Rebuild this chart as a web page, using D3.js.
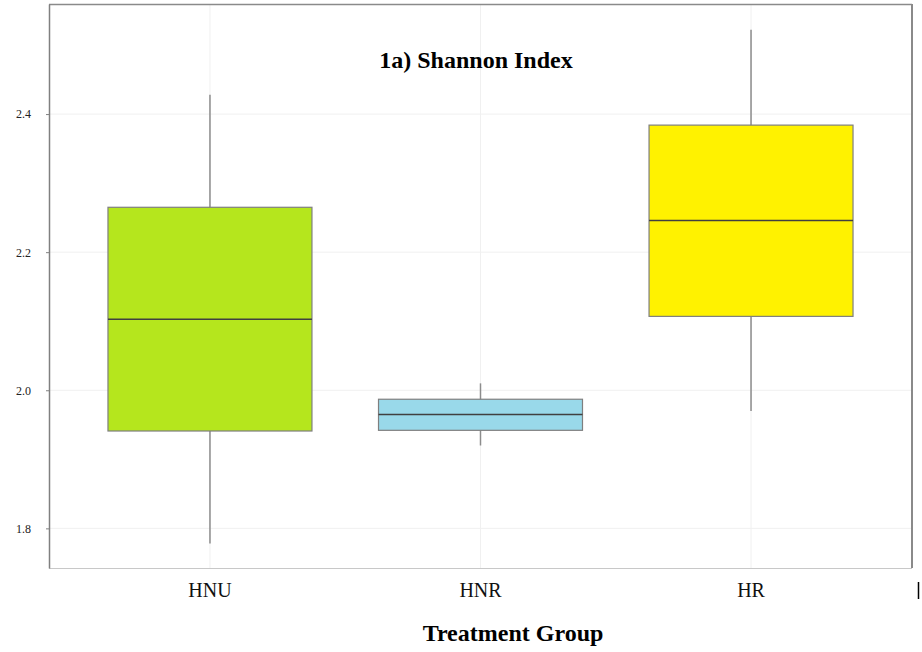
<!DOCTYPE html>
<html>
<head>
<meta charset="utf-8">
<script src="https://cdn.jsdelivr.net/npm/d3@7"></script>
<style>
  body { margin: 0; background: #fff; }
  svg text { font-family: "Liberation Serif", "Times New Roman", serif; }
</style>
</head>
<body>
<div id="chart"></div>
<script>
var groups = ['HNU', 'HNR', 'HR'];
var whiskerLow = [1.778, 1.920, 1.970];
var q1 = [1.941, 1.942, 2.107];
var medians = [2.103, 1.965, 2.246];
var q3 = [2.265, 1.987, 2.384];
var whiskerHigh = [2.428, 2.010, 2.522];
var colors = ['#b5e61d', '#99d9ea', '#fff200'];
var yTicks = [1.8, 2.0, 2.2, 2.4];

var _width = 922, _height = 652,
    _left = 49, _right = 912, _top = 4, _bottom = 568,
    _serif = '"Liberation Serif", "Times New Roman", serif';

var svg = d3.select('#chart').append('svg')
    .attr('width', _width)
    .attr('height', _height);

var x = d3.scaleBand()
    .domain(groups)
    .range([_left, _right])
    .paddingInner(0.246)
    .paddingOuter(0.218);

var y = d3.scaleLinear()
    .domain([1.7426, 2.5594])
    .range([_bottom, _top]);

var boxes = groups.map(function (g, i) {
    return { name: g, lo: whiskerLow[i], q1: q1[i], med: medians[i], q3: q3[i], hi: whiskerHigh[i], color: colors[i] };
});

// GRID
// ----------------------------------------------------------------
svg.append('g').selectAll('line.hgrid')
    .data(yTicks).enter().append('line')
    .attr('x1', _left).attr('x2', _right)
    .attr('y1', function (d) { return y(d); })
    .attr('y2', function (d) { return y(d); })
    .attr('stroke', '#f0f0f0');

svg.append('g').selectAll('line.vgrid')
    .data(groups).enter().append('line')
    .attr('x1', function (d) { return x(d) + x.bandwidth() / 2; })
    .attr('x2', function (d) { return x(d) + x.bandwidth() / 2; })
    .attr('y1', _top).attr('y2', _bottom)
    .attr('stroke', '#f0f0f0');

// FRAME
// ----------------------------------------------------------------
svg.append('line').attr('x1', _left).attr('x2', _right).attr('y1', _top + 0.5).attr('y2', _top + 0.5)
    .attr('stroke', '#8a8a8a').attr('stroke-width', 1.5);
svg.append('line').attr('x1', _right).attr('x2', _right).attr('y1', _top).attr('y2', _bottom)
    .attr('stroke', '#8a8a8a').attr('stroke-width', 2);
svg.append('line').attr('x1', _left).attr('x2', _right).attr('y1', _bottom + 0.5).attr('y2', _bottom + 0.5)
    .attr('stroke', '#c8c8c8');

// Y AXIS
// ----------------------------------------------------------------
var yAxis = svg.append('g')
    .attr('transform', 'translate(' + _left + ',0)')
    .call(d3.axisLeft(y).tickValues(yTicks).tickFormat(d3.format('.1f'))
        .tickSizeInner(3).tickSizeOuter(0).tickPadding(15));
yAxis.select('.domain').attr('stroke', '#808080').attr('stroke-width', 1.5);
yAxis.selectAll('.tick line').attr('stroke', '#808080');
yAxis.selectAll('.tick text')
    .style('font-family', _serif)
    .style('font-size', '12px')
    .attr('fill', '#222');

// BOXES
// ----------------------------------------------------------------
var gBox = svg.append('g').selectAll('g.box')
    .data(boxes).enter().append('g').attr('class', 'box');

gBox.append('line')
    .attr('x1', function (d) { return x(d.name) + x.bandwidth() / 2; })
    .attr('x2', function (d) { return x(d.name) + x.bandwidth() / 2; })
    .attr('y1', function (d) { return y(d.hi); })
    .attr('y2', function (d) { return y(d.lo); })
    .attr('stroke', '#8c8c8c').attr('stroke-width', 1.5);

gBox.append('rect')
    .attr('x', function (d) { return x(d.name); })
    .attr('width', x.bandwidth())
    .attr('y', function (d) { return y(d.q3); })
    .attr('height', function (d) { return y(d.q1) - y(d.q3); })
    .attr('fill', function (d) { return d.color; })
    .attr('stroke', '#7f7f7f').attr('stroke-width', 1.2);

gBox.append('line')
    .attr('x1', function (d) { return x(d.name); })
    .attr('x2', function (d) { return x(d.name) + x.bandwidth(); })
    .attr('y1', function (d) { return y(d.med); })
    .attr('y2', function (d) { return y(d.med); })
    .attr('stroke', '#404040').attr('stroke-width', 1.5);

// X LABELS / TITLES
// ----------------------------------------------------------------
svg.append('g').selectAll('text.xlab')
    .data(groups).enter().append('text')
    .attr('x', function (d) { return x(d) + x.bandwidth() / 2; })
    .attr('y', 597)
    .attr('text-anchor', 'middle')
    .style('font-family', _serif)
    .style('font-size', '20px')
    .attr('fill', '#111')
    .text(function (d) { return d; });

svg.append('line').attr('x1', 918.5).attr('x2', 918.5).attr('y1', 582).attr('y2', 599)
    .attr('stroke', '#000').attr('stroke-width', 1.5);

svg.append('text')
    .attr('x', 476).attr('y', 68)
    .attr('text-anchor', 'middle')
    .style('font-family', _serif)
    .style('font-size', '24px').style('font-weight', 'bold')
    .text('1a) Shannon Index');

svg.append('text')
    .attr('x', 513).attr('y', 641)
    .attr('text-anchor', 'middle')
    .style('font-family', _serif)
    .style('font-size', '24px').style('font-weight', 'bold')
    .text('Treatment Group');
</script>
</body>
</html>
